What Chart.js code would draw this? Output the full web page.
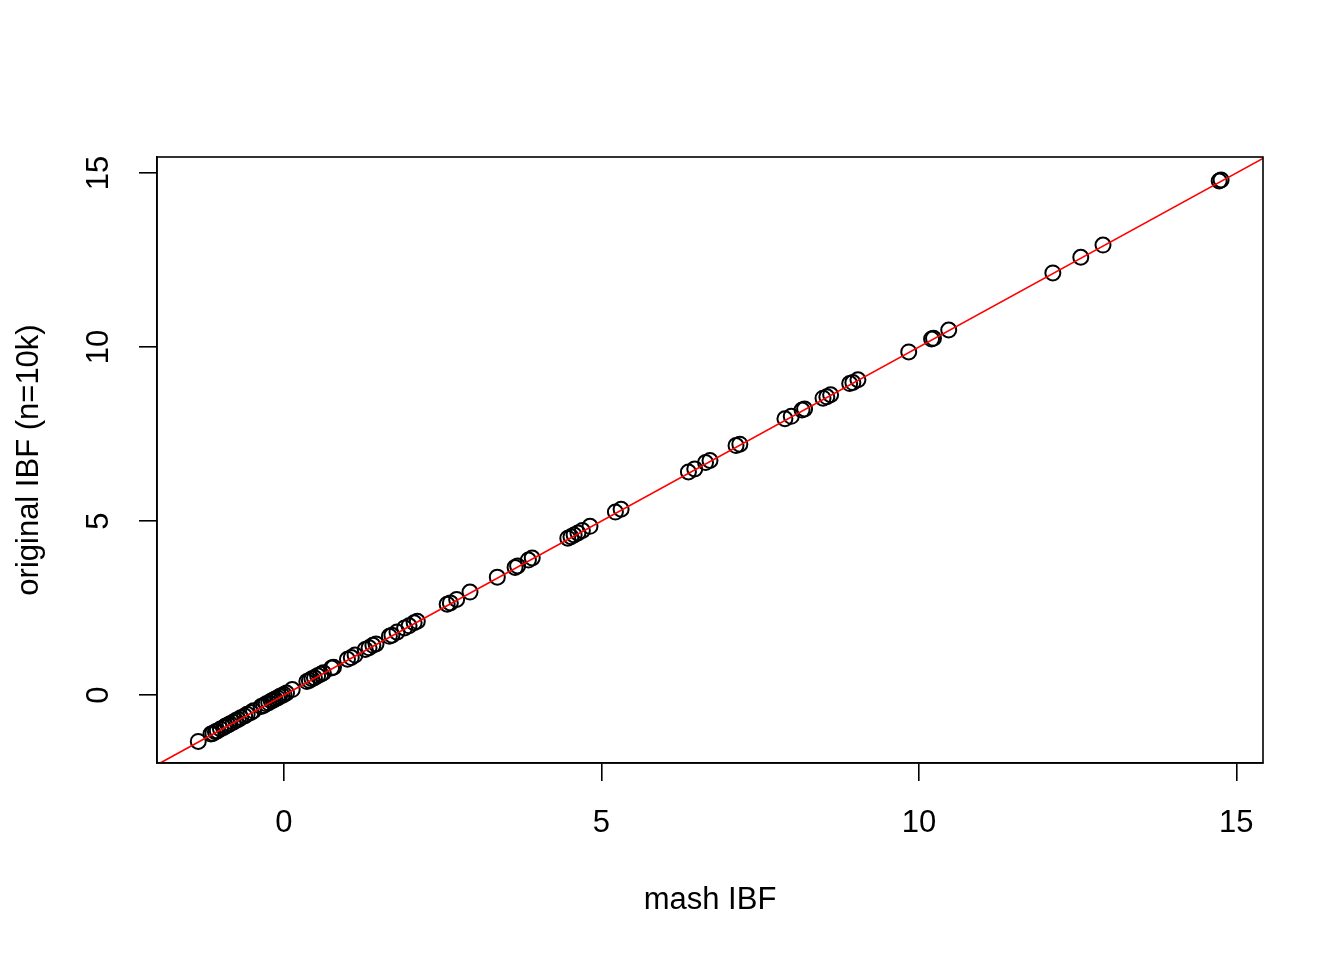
<!DOCTYPE html>
<html>
<head>
<meta charset="utf-8">
<script src="https://cdn.jsdelivr.net/npm/chart.js@4.4.1/dist/chart.umd.min.js"></script>
<style>
  html, body { margin: 0; padding: 0; background: #fff; }
  #wrap { width: 1344px; height: 960px; }
</style>
</head>
<body>
<div id="wrap"><canvas id="chart" width="1344" height="960"></canvas></div>
<script>

// values
const mashIBF = [
  -1.35,
  -1.15, -1.12, -1.08, -1.05, -1.00, -0.95, -0.92, -0.88, -0.85, -0.80, -0.76, -0.72, -0.68, -0.62, -0.58, -0.52, -0.48,
  -0.36, -0.32, -0.28, -0.24, -0.20, -0.17, -0.14, -0.10, -0.07, -0.03, 0.00, 0.04,
  0.13,
  0.36, 0.40, 0.44, 0.48, 0.53, 0.58, 0.62,
  0.75, 0.78,
  1.00, 1.06, 1.12, 1.28, 1.34, 1.40, 1.45,
  1.66, 1.70, 1.78, 1.90, 1.97, 2.05, 2.10,
  2.57, 2.62, 2.72,
  2.93,
  3.36,
  3.64, 3.68, 3.85, 3.91,
  4.47, 4.52, 4.57, 4.63, 4.70, 4.82,
  5.22, 5.31,
  6.37, 6.47, 6.64, 6.71,
  7.12, 7.18,
  7.89, 7.99,
  8.16, 8.20,
  8.49, 8.55, 8.61,
  8.91, 8.96, 9.04,
  9.84,
  10.20, 10.23,
  10.47,
  12.11,
  12.55,
  12.90,
  14.73, 14.76
];

const originalIBF = [
  -1.33,
  -1.12, -1.10, -1.05, -1.03, -0.97, -0.93, -0.89, -0.86, -0.82, -0.78, -0.73, -0.70, -0.65, -0.60, -0.55, -0.50, -0.45,
  -0.33, -0.30, -0.25, -0.22, -0.17, -0.15, -0.11, -0.08, -0.04, -0.01, 0.02, 0.06,
  0.16,
  0.39, 0.42, 0.47, 0.50, 0.56, 0.60, 0.64,
  0.78, 0.80,
  1.03, 1.08, 1.15, 1.31, 1.36, 1.43, 1.47,
  1.69, 1.72, 1.81, 1.93, 1.99, 2.08, 2.12,
  2.61, 2.65, 2.75,
  2.96,
  3.39,
  3.67, 3.71, 3.88, 3.94,
  4.51, 4.55, 4.60, 4.66, 4.73, 4.85,
  5.26, 5.34,
  6.41, 6.50, 6.68, 6.74,
  7.17, 7.21,
  7.94, 8.01,
  8.19, 8.22,
  8.53, 8.57, 8.63,
  8.95, 8.98, 9.06,
  9.86,
  10.23, 10.25,
  10.49,
  12.13,
  12.58,
  12.93,
  14.77, 14.80
];

const xTicks = [0, 5, 10, 15];
const yTicks = [0, 5, 10, 15];
const xRange = [-2.0, 15.42];
const yRange = [-1.95, 15.46];
const identityLine = [-3, 17];   // abline(0, 1)


window.onload = function () {

    drawChart();

};



function drawChart() {

    Chart.defaults.font.family = "'Liberation Sans', Arial, sans-serif";
    Chart.defaults.font.size = 31;
    Chart.defaults.color = "#000";

    const points = mashIBF.map((x, i) => ({ x: x, y: originalIBF[i] }));
    const line = identityLine.map(v => ({ x: v, y: v }));

    // R style box around the plot region
    const boxPlugin = {
        id: "box",
        afterDraw(chart) {
            const a = chart.chartArea;
            const ctx = chart.ctx;
            ctx.save();
            ctx.strokeStyle = "#000";
            ctx.lineWidth = 1.6;
            ctx.strokeRect(a.left, a.top, a.right - a.left, a.bottom - a.top);
            ctx.restore();
        }
    };

    const ctx = document.getElementById("chart").getContext("2d");

    new Chart(ctx, {

        type: "scatter",

        data: {
            datasets: [
                {
                    data: line,
                    showLine: true,
                    borderColor: "#ff0000",
                    borderWidth: 1.7,
                    pointRadius: 0,
                    order: 0
                },
                {
                    data: points,
                    pointStyle: "circle",
                    pointRadius: 7.5,
                    backgroundColor: "rgba(0,0,0,0)",
                    borderColor: "#000",
                    borderWidth: 2,
                    order: 1
                }
            ]
        },

        options: {
            responsive: false,
            animation: false,
            layout: {
                padding: { left: 0, top: 157, right: 81, bottom: 0 }
            },
            plugins: {
                legend: { display: false },
                tooltip: { enabled: false }
            },
            scales: {
                x: {
                    type: "linear",
                    min: xRange[0],
                    max: xRange[1],
                    afterBuildTicks: s => { s.ticks = xTicks.map(v => ({ value: v })); },
                    afterFit: s => { s.height = 197; },
                    grid: {
                        drawOnChartArea: false,
                        drawTicks: true,
                        tickLength: 18,
                        color: "#000",
                        lineWidth: 1.6
                    },
                    border: { display: true, color: "#000", width: 1.6 },
                    ticks: {
                        padding: 24,
                        maxRotation: 0,
                        autoSkip: false,
                        callback: v => v
                    },
                    title: {
                        display: true,
                        text: "mash IBF",
                        padding: { top: 0, bottom: 41 }
                    }
                },
                y: {
                    type: "linear",
                    min: yRange[0],
                    max: yRange[1],
                    afterBuildTicks: s => { s.ticks = yTicks.map(v => ({ value: v })); },
                    afterFit: s => { s.width = 157; },
                    grid: {
                        drawOnChartArea: false,
                        drawTicks: true,
                        tickLength: 18,
                        color: "#000",
                        lineWidth: 1.6
                    },
                    border: { display: true, color: "#000", width: 1.6 },
                    ticks: {
                        padding: 22,
                        minRotation: 90,
                        maxRotation: 90,
                        crossAlign: "center",
                        autoSkip: false,
                        callback: v => v
                    },
                    title: {
                        display: true,
                        text: "original IBF (n=10k)",
                        padding: { top: 11, bottom: 0 }
                    }
                }
            }
        },

        plugins: [boxPlugin]

    });

}

</script>
</body>
</html>
